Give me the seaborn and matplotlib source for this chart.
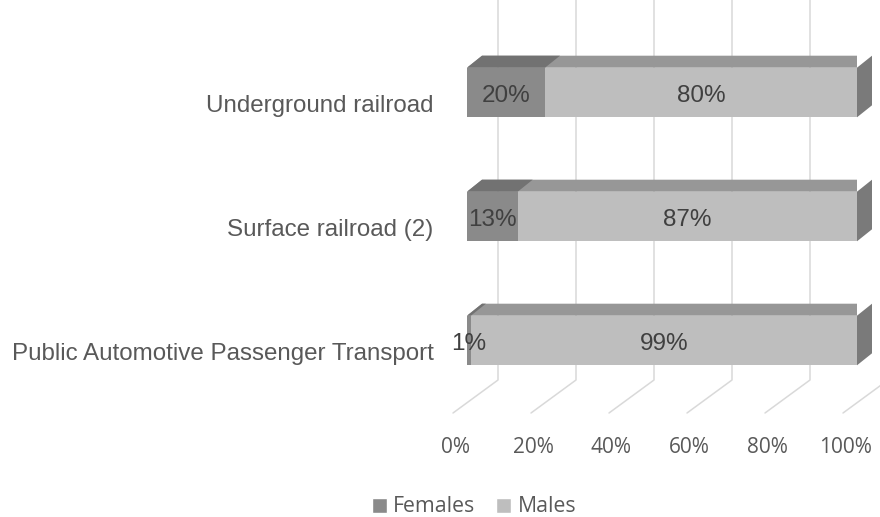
import matplotlib
matplotlib.use("Agg")
import matplotlib.pyplot as plt
from matplotlib.patches import Polygon, Patch
from matplotlib.transforms import ScaledTranslation
import seaborn as sns
import pandas as pd

# Share of employees by sex in each transport branch (percent)
categories = ["Underground railroad", "Surface railroad (2)", "Public Automotive Passenger Transport"]
females = [20, 13, 1]
males = [80, 87, 99]
tick_values = [0, 20, 40, 60, 80, 100]
tick_labels = ["0%", "20%", "40%", "60%", "80%", "100%"]

sns.set_theme(style="white")
plt.rcParams["font.family"] = ["Liberation Sans", "DejaVu Sans"]

W, H, DPI = 880, 517, 100
fig = plt.figure(figsize=(W / DPI, H / DPI), dpi=DPI)
fig.patch.set_facecolor("white")

# Axes geometry (pixels): bar front plane
ax_left, ax_right = 467, 857
ax_top, ax_bottom = 30.5, 402.5
ax = fig.add_axes([ax_left / W, 1 - ax_bottom / H, (ax_right - ax_left) / W, (ax_bottom - ax_top) / H])

df = pd.DataFrame({"category": categories, "Females": females, "Males": males})
df["total"] = df["Females"] + df["Males"]

c_fem_front, c_fem_top = "#8a8a8a", "#727272"
c_mal_front, c_mal_top, c_side = "#bebebe", "#979797", "#7a7a7a"

sns.barplot(data=df, x="total", y="category", orient="h", color=c_mal_front,
            width=0.4, saturation=1, linewidth=0, ax=ax, zorder=3)
sns.barplot(data=df, x="Females", y="category", orient="h", color=c_fem_front,
            width=0.4, saturation=1, linewidth=0, ax=ax, zorder=3)

ax.set_xlim(0, 100)
ax.set_ylim(2.5, -0.5)

# data units per pixel
ux = 100 / (ax_right - ax_left)
uy = 3 / (ax_bottom - ax_top)

# bar depth (top / right faces)
bdx, bdy = 15 * ux, 12 * uy

male_bars = ax.containers[0]
fem_bars = ax.containers[1]
for bars, top_col in ((male_bars, c_mal_top), (fem_bars, c_fem_top)):
    for p in bars:
        x0, y0 = p.get_x(), p.get_y()
        x1, y1 = x0 + p.get_width(), y0 + p.get_height()
        ax.add_patch(Polygon([(x0, y0), (x1, y0), (x1 + bdx, y0 - bdy), (x0 + bdx, y0 - bdy)],
                             closed=True, facecolor=top_col, edgecolor="none", zorder=4))
        if bars is male_bars:
            ax.add_patch(Polygon([(x1, y0), (x1 + bdx, y0 - bdy), (x1 + bdx, y1 - bdy), (x1, y1)],
                                 closed=True, facecolor=c_side, edgecolor="none", zorder=4,
                                 clip_on=False))
for p in list(male_bars) + list(fem_bars):
    p.set_clip_on(False)
# female segment sits over the left end of the full-length bar
for p in fem_bars:
    p.set_zorder(3.5)

# Back wall gridlines and floor lines
wall_dx = 31 * ux
floor_dx = -14 * ux
y_wall_top = -0.5 - ax_top * uy
y_wall_bottom = 2.5 - (ax_bottom - 380) * uy
y_floor_front = 2.5 + (413 - ax_bottom) * uy
for v in tick_values:
    ax.plot([v + wall_dx, v + wall_dx, v + floor_dx], [y_wall_top, y_wall_bottom, y_floor_front],
            color="#d9d9d9", lw=1.1, zorder=0, clip_on=False)

# Data labels, centred on each segment
for i, (f, m) in enumerate(zip(females, males)):
    p = fem_bars[i]
    yc = p.get_y() + p.get_height() / 2 + 4 * uy
    ax.text(f / 2, yc, f"{f}%", ha="center", va="center", fontsize=17.5,
            color="#404040", zorder=6)
    ax.text(f + m / 2, yc, f"{m}%", ha="center", va="center", fontsize=17.5,
            color="#404040", zorder=6)

for s in ax.spines.values():
    s.set_visible(False)

ax.set_xlabel("")
ax.set_ylabel("")
ax.set_xticks(tick_values)
ax.set_xticklabels(tick_labels, fontsize=15, color="#595959", family=["Open Sans", "DejaVu Sans"])
ax.tick_params(axis="x", length=0, pad=25)
ax.tick_params(axis="y", length=0, pad=24)
ax.set_yticks(range(len(categories)))
ax.set_yticklabels(categories, fontsize=17.4, color="#595959")
for lab in ax.get_xticklabels():
    lab.set_transform(lab.get_transform() + ScaledTranslation(-12 / DPI, 0, fig.dpi_scale_trans))
for lab in ax.get_yticklabels():
    lab.set_transform(lab.get_transform() + ScaledTranslation(0, -11 / DPI, fig.dpi_scale_trans))
ax.grid(False)

handles = [Patch(facecolor=c_fem_front), Patch(facecolor=c_mal_front)]
fig.legend(handles, ["Females", "Males"], loc="center", bbox_to_anchor=(474 / W, 1 - 507 / H),
           ncol=2, frameon=False, handlelength=0.7, handleheight=0.7, handletextpad=0.3,
           columnspacing=1.0, prop={"family": ["Open Sans", "DejaVu Sans"], "size": 15.3},
           labelcolor="#595959")

fig.savefig("out.png", dpi=DPI, facecolor="white")
